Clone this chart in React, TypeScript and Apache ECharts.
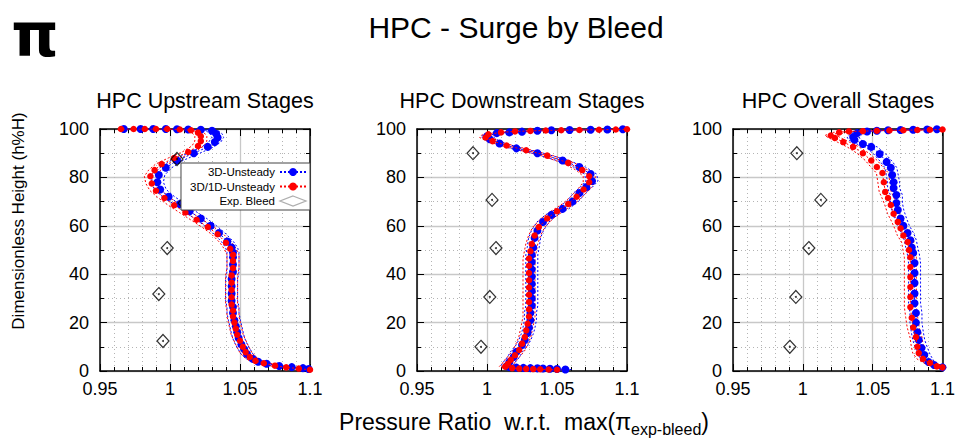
import React, { useEffect, useRef } from 'react';
import * as echarts from 'echarts';

const FONT = '"Liberation Sans", Arial, Helvetica, sans-serif';
const BLUE = '#0000ff';
const RED = '#ff0000';

const mainTitle = 'HPC - Surge by Bleed';
const panelTitles = ['HPC Upstream Stages', 'HPC Downstream Stages', 'HPC Overall Stages'];
const seriesNames = ['3D-Unsteady', '3D/1D-Unsteady', 'Exp. Bleed'];
const yLabel = 'Dimensionless Height (h%H)';
const xLabelMain = 'Pressure Ratio  w.r.t.  max(\u03c0';
const xLabelSub = 'exp-bleed';
const xMin = 0.95;
const xMax = 1.1;
const xStep = 0.05;
const yMin = 0;
const yMax = 100;
const yStep = 20;

// Panel 1: upstream stages  [pressure ratio, h%H]
const upstream3D = [
  [1.099, 0.8], [1.095, 1.2], [1.087, 1.6], [1.078, 2.1], [1.069, 3], [1.063, 3.8], [1.059, 5],
  [1.055, 7], [1.053, 9], [1.051, 11], [1.049, 13.6], [1.048, 16], [1.047, 18.5], [1.046, 21],
  [1.045, 24], [1.045, 26.5], [1.044, 29], [1.044, 32], [1.044, 35], [1.044, 38], [1.045, 41],
  [1.045, 44], [1.045, 47], [1.045, 49], [1.044, 51], [1.041, 53.5], [1.035, 57], [1.029, 60],
  [1.022, 63], [1.014, 66], [1.007, 69], [0.999, 72], [0.993, 75], [0.991, 78], [0.992, 81],
  [0.997, 84], [1.005, 87], [1.017, 90], [1.027, 92.6], [1.032, 94.6], [1.034, 96.5], [1.033, 98],
  [1.030, 99.3], [1.022, 99.7], [1.013, 99.8], [1.005, 99.9], [0.997, 100], [0.988, 100],
  [0.979, 100], [0.967, 100],
];
const upstream1D = [
  [1.1, 0.5], [1.092, 1], [1.083, 1.5], [1.075, 2.2], [1.067, 3.2], [1.061, 4.2], [1.057, 5.8],
  [1.054, 7.8], [1.052, 10], [1.050, 12.5], [1.048, 15], [1.047, 17.5], [1.046, 20], [1.045, 22.5],
  [1.045, 25], [1.044, 27.5], [1.044, 30.5], [1.044, 33.5], [1.044, 36.5], [1.044, 39.5],
  [1.045, 42.5], [1.045, 45.5], [1.045, 48], [1.043, 50.5], [1.040, 53], [1.034, 56.5],
  [1.027, 59.5], [1.019, 62.5], [1.011, 65.5], [1.003, 68.5], [0.996, 71.5], [0.990, 74.5],
  [0.987, 77.5], [0.986, 80.5], [0.989, 83], [0.994, 85.5], [1.003, 88], [1.013, 90.5],
  [1.020, 93], [1.022, 95], [1.022, 97], [1.020, 98.5], [1.015, 99.5], [1.007, 99.8],
  [0.998, 100], [0.990, 100], [0.982, 100], [0.974, 100], [0.965, 100],
];
const upstreamExp = [[1.005, 87.6], [1.010, 69.4], [0.998, 50.8], [0.992, 31.8], [0.995, 12.4]];

// Panel 2: downstream stages
const downstream3D = [
  [1.056, 0.6], [1.05, 0.8], [1.045, 0.9], [1.040, 1], [1.036, 1.1], [1.031, 1.2], [1.026, 1.3],
  [1.021, 1.4], [1.016, 1.6], [1.014, 2], [1.016, 3.7], [1.019, 5.8], [1.021, 7.9], [1.025, 10.7],
  [1.027, 12.8], [1.029, 15.7], [1.030, 18], [1.031, 21], [1.031, 24], [1.032, 27], [1.032, 30],
  [1.032, 33], [1.032, 36], [1.032, 39], [1.032, 42], [1.032, 45], [1.032, 48], [1.033, 51],
  [1.034, 55], [1.036, 58], [1.040, 61.6], [1.046, 64.5], [1.054, 67], [1.061, 70], [1.066, 73.5],
  [1.071, 76], [1.075, 78.5], [1.074, 81.4], [1.066, 84.3], [1.054, 87], [1.036, 90], [1.021, 92],
  [1.009, 94], [1.002, 95.8], [1.0, 97], [1.007, 98.3], [1.016, 98.6], [1.025, 98.9],
  [1.036, 99.3], [1.046, 99.5], [1.059, 99.6], [1.074, 99.7], [1.086, 99.8], [1.097, 99.9],
];
const downstream1D = [
  [1.05, 0.5], [1.044, 0.6], [1.038, 0.7], [1.033, 0.8], [1.028, 0.9], [1.023, 1], [1.018, 1.2],
  [1.013, 1.8], [1.015, 3], [1.017, 4.6], [1.020, 6.5], [1.023, 8.7], [1.025, 11.3], [1.027, 14],
  [1.028, 16.8], [1.029, 19.5], [1.030, 22.5], [1.030, 25.5], [1.030, 28.5], [1.030, 31.5],
  [1.030, 34.5], [1.030, 37.5], [1.030, 40.5], [1.030, 43.5], [1.030, 46.5], [1.031, 49.5],
  [1.032, 52.5], [1.034, 56], [1.037, 59.5], [1.043, 63], [1.050, 66], [1.058, 69], [1.064, 72],
  [1.069, 75], [1.073, 78], [1.073, 80.5], [1.068, 83], [1.058, 86], [1.043, 89], [1.028, 91.2],
  [1.014, 93.2], [1.004, 95], [0.999, 96.5], [1.001, 97.8], [1.010, 98.6], [1.020, 99],
  [1.031, 99.2], [1.042, 99.4], [1.053, 99.5], [1.066, 99.6], [1.080, 99.7], [1.092, 99.8],
  [1.1, 99.9],
];
const downstreamExp = [[0.990, 90], [1.0036, 70.7], [1.0064, 50.8], [1.002, 30.6], [0.9957, 10]];

// Panel 3: overall stages
const overall3D = [
  [1.1, 1.5], [1.094, 2.5], [1.09, 3.7], [1.087, 6.6], [1.085, 9.5], [1.083, 12.8], [1.082, 16],
  [1.081, 20], [1.081, 24], [1.080, 28], [1.080, 32], [1.080, 36.4], [1.080, 40.5], [1.080, 44.6],
  [1.079, 48.8], [1.078, 51], [1.077, 54], [1.075, 57], [1.072, 60], [1.070, 63], [1.068, 66.5],
  [1.067, 69.4], [1.067, 72.7], [1.065, 75.6], [1.065, 78], [1.064, 81], [1.063, 84], [1.060, 86.4],
  [1.055, 89.7], [1.049, 92.6], [1.043, 93.8], [1.037, 95.5], [1.036, 96.7], [1.039, 98.3],
  [1.046, 99], [1.053, 99.3], [1.061, 99.5], [1.070, 99.6], [1.079, 99.7], [1.089, 99.8],
  [1.096, 99.9],
];
const overall1D = [
  [1.1, 1.5], [1.096, 1.9], [1.091, 3.3], [1.086, 5], [1.083, 7.4], [1.082, 10], [1.081, 14],
  [1.079, 18], [1.078, 22], [1.077, 26.4], [1.077, 30.6], [1.077, 34.7], [1.077, 38.8], [1.077, 43],
  [1.077, 47], [1.076, 50], [1.075, 53.3], [1.072, 56], [1.070, 59], [1.068, 61.6], [1.065, 65],
  [1.063, 68.6], [1.061, 71.5], [1.059, 74], [1.058, 78], [1.057, 81.8], [1.053, 84.3], [1.049, 87],
  [1.043, 90], [1.036, 92.6], [1.029, 94.6], [1.023, 96.3], [1.020, 97.3], [1.026, 98.6],
  [1.033, 99], [1.043, 99.1], [1.053, 99.3], [1.062, 99.4], [1.072, 99.5], [1.082, 99.6],
  [1.091, 99.7], [1.1, 99.8],
];
const overallExp = [[0.9957, 90], [1.0129, 70.7], [1.0043, 50.8], [0.995, 30.6], [0.9907, 10]];

const panelData = [
  [upstream3D, upstream1D, upstreamExp],
  [downstream3D, downstream1D, downstreamExp],
  [overall3D, overall1D, overallExp],
];

const gridLefts = [100, 417, 733];
const gridWidth = 210;
const gridTop = 129;
const gridHeight = 242;

const fmtX = (v: number) => String(Math.round(v * 100) / 100);

function buildOption() {
  const grids: any[] = [];
  const xAxes: any[] = [];
  const yAxes: any[] = [];
  const series: any[] = [];
  const titles: any[] = [];

  const axisLine = { show: true, onZero: false, lineStyle: { color: '#000', width: 1.5 } };
  const tick = { show: true, inside: true, length: 7, lineStyle: { color: '#000', width: 1 } };
  const minorTickX = { show: true, splitNumber: 5, length: 4, lineStyle: { color: '#000', width: 1 } };
  const minorTickY = { show: true, splitNumber: 2, length: 4, lineStyle: { color: '#000', width: 1 } };
  const split = { show: true, lineStyle: { color: '#c8c8c8', width: 1.3 } };
  const minorSplit = { show: true, lineStyle: { color: '#b4b4b4', width: 1, type: [1, 3] } };

  panelData.forEach((pd, i) => {
    grids.push({ left: gridLefts[i], top: gridTop, width: gridWidth, height: gridHeight, show: false });
    titles.push({
      text: panelTitles[i],
      left: gridLefts[i] + gridWidth / 2,
      top: 90,
      padding: 0,
      textAlign: 'center',
      textStyle: { fontFamily: FONT, fontSize: 21.5, fontWeight: 'normal', color: '#000' },
    });
    const common = { gridIndex: i, type: 'value', min: xMin, max: xMax, interval: xStep };
    xAxes.push({
      ...common, position: 'bottom', axisLine, axisTick: tick, minorTick: minorTickX,
      axisLabel: { show: true, fontFamily: FONT, fontSize: 18, color: '#000', margin: 9, formatter: fmtX },
      splitLine: split, minorSplitLine: minorSplit,
    });
    xAxes.push({
      ...common, position: 'top', axisLine, axisTick: tick, minorTick: minorTickX,
      axisLabel: { show: false }, splitLine: { show: false },
    });
    const ycommon = { gridIndex: i, type: 'value', min: yMin, max: yMax, interval: yStep };
    yAxes.push({
      ...ycommon, position: 'left', axisLine, axisTick: tick, minorTick: minorTickY,
      axisLabel: { show: true, fontFamily: FONT, fontSize: 18, color: '#000', margin: 11 },
      splitLine: split, minorSplitLine: minorSplit,
    });
    yAxes.push({
      ...ycommon, position: 'right', axisLine, axisTick: tick, minorTick: minorTickY,
      axisLabel: { show: false }, splitLine: { show: false },
    });

    const xb = i * 2;
    const yl = i * 2;
    const [d3, d1, dx] = pd;
    const envelope = (data: number[][], color: string) => ({
      type: 'custom',
      xAxisIndex: xb,
      yAxisIndex: yl,
      data: [data[0]],
      silent: true,
      clip: true,
      z: 2,
      renderItem: (params: any, api: any) => {
        const pts = data.map((p) => api.coord(p));
        return {
          type: 'group',
          children: [-6, 6].map((o) => ({
            type: 'polyline',
            shape: { points: pts.map((q: number[]) => [q[0] + o, q[1]]) },
            style: { stroke: color, fill: null, lineWidth: 1, lineDash: [2, 2] },
          })),
        };
      },
    });
    series.push(envelope(d3, BLUE));
    series.push(envelope(d1, RED));
    series.push({
      name: seriesNames[0], type: 'line', xAxisIndex: xb, yAxisIndex: yl, data: d3,
      symbol: 'circle', symbolSize: 8, showAllSymbol: true, z: 3,
      itemStyle: { color: BLUE },
      lineStyle: { color: BLUE, width: 1, type: [2, 2] },
      emphasis: { disabled: true },
    });
    series.push({
      name: seriesNames[1], type: 'line', xAxisIndex: xb, yAxisIndex: yl, data: d1,
      symbol: 'circle', symbolSize: 6.5, showAllSymbol: true, z: 4,
      itemStyle: { color: RED },
      lineStyle: { color: RED, width: 1, type: [2, 2] },
      emphasis: { disabled: true },
    });
    series.push({
      name: seriesNames[2], type: 'scatter', xAxisIndex: xb, yAxisIndex: yl, data: dx,
      symbol: 'diamond', symbolSize: [12, 13], z: 5,
      itemStyle: { color: 'rgba(255,255,255,0)', borderColor: '#000', borderWidth: 1.2 },
      emphasis: { disabled: true },
    });
    series.push({
      type: 'scatter', xAxisIndex: xb, yAxisIndex: yl, data: dx, silent: true,
      symbol: 'circle', symbolSize: 2, z: 5, itemStyle: { color: '#000' },
    });
  });

  titles.unshift({
    text: mainTitle,
    left: 516,
    top: 12,
    padding: 0,
    textAlign: 'center',
    textStyle: { fontFamily: FONT, fontSize: 30, fontWeight: 'normal', color: '#000' },
  });

  return {
    animation: false,
    backgroundColor: '#fff',
    title: titles,
    grid: grids,
    xAxis: xAxes,
    yAxis: yAxes,
    legend: {
      data: [
        { name: seriesNames[0] },
        { name: seriesNames[1] },
        { name: seriesNames[2], itemStyle: { color: '#fff', borderColor: '#999', borderWidth: 1.2 } },
      ],
      orient: 'vertical',
      right: 958 - (gridLefts[0] + gridWidth),
      top: 163,
      align: 'right',
      itemWidth: 26,
      itemHeight: 10,
      itemGap: 2.5,
      padding: [3, 3, 3, 9],
      backgroundColor: '#fff',
      borderColor: '#444',
      borderWidth: 1,
      selectedMode: false,
      formatter: '{a|{name}}',
      textStyle: {
        fontFamily: FONT, fontSize: 11.5, color: '#000',
        rich: { a: { fontFamily: FONT, fontSize: 11.5, color: '#000', width: 82, align: 'right' } },
      },
      z: 10,
    },
    graphic: [
      {
        type: 'text', x: 35, y: 35,
        style: {
          text: '\u03c0', font: 'bold 60px "DejaVu Sans", sans-serif', fill: '#000',
          textAlign: 'center', textVerticalAlign: 'middle',
        },
      },
      {
        type: 'text', x: 18, y: 221, rotation: Math.PI / 2,
        style: { text: yLabel, font: `17px ${FONT}`, fill: '#000', textAlign: 'center', textVerticalAlign: 'middle' },
      },
      {
        type: 'text', x: 524, y: 424,
        style: {
          text: `{a|${xLabelMain}}{b|${xLabelSub}}{a|)}`,
          textAlign: 'center', textVerticalAlign: 'middle', fill: '#000',
          rich: {
            a: { fontFamily: FONT, fontSize: 23, lineHeight: 27, verticalAlign: 'top', fill: '#000' },
            b: { fontFamily: FONT, fontSize: 16, lineHeight: 16, verticalAlign: 'bottom', fill: '#000' },
          },
        },
      },
    ],
    series,
  };
}

export default function App() {
  const ref = useRef<HTMLDivElement>(null);
  useEffect(() => {
    if (!ref.current) return;
    const chart = echarts.init(ref.current, undefined, { renderer: 'svg' });
    chart.setOption(buildOption() as any);
    return () => chart.dispose();
  }, []);
  return (
    <div
      ref={ref}
      style={{ position: 'fixed', left: 0, top: 0, width: 958, height: 447, background: '#fff' }}
    />
  );
}
